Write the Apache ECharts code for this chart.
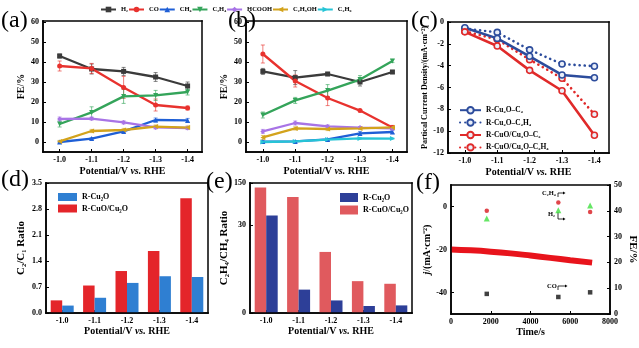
<!DOCTYPE html>
<html><head><meta charset="utf-8">
<script src="https://cdn.jsdelivr.net/npm/echarts@6/dist/echarts.min.js"></script>
<style>html,body{margin:0;padding:0;background:#fff}#c{width:639px;height:348px}</style>
</head><body><div id="c"></div>
<script>
const FONT = '"Liberation Serif","Times New Roman",serif';

// ---------- data ----------
const potentials = [-1.0, -1.1, -1.2, -1.3, -1.4];
const potLabels = ['-1.0', '-1.1', '-1.2', '-1.3', '-1.4'];
const productNames = ['H₂', 'CO', 'CH₄', 'C₂H₄', 'HCOOH', 'C₂H₅OH', 'C₂H₆'];
const feTicks = [0, 10, 20, 30, 40, 50, 60];

// (a) R-Cu2O FE
const aH2 = [43.0, 36.5, 35.3, 32.5, 28.0];
const aH2Err = [1.0, 2.5, 2.0, 2.2, 2.0];
const aCO = [38.0, 36.8, 27.3, 18.5, 17.0];
const aCOErr = [2.5, 2.5, 5.5, 3.0, 1.0];
const aCH4 = [0.0, 1.7, 5.3, 11.0, 10.8];
const aCH4Err = [0.5, 0.5, 0.5, 1.0, 1.0];
const aC2H4 = [9.0, 14.8, 22.8, 23.3, 25.0];
const aC2H4Err = [1.5, 2.8, 3.5, 2.5, 1.5];
const aHCOOH = [11.5, 11.7, 9.8, 7.3, 7.0];
const aHCOOHErr = [1.0, 0.8, 0.8, 0.8, 0.8];
const aC2H5OH = [0.3, 5.5, 6.0, 7.7, 7.2];
const aC2H5OHErr = [0.5, 0.8, 0.8, 0.8, 0.8];

// (b) R-CuO/Cu2O FE
const bH2 = [35.3, 32.2, 34.0, 30.0, 35.0];
const bH2Err = [1.5, 3.5, 0.8, 2.0, 0.8];
const bCO = [44.0, 30.5, 22.0, 15.7, 7.3];
const bCOErr = [4.5, 3.0, 3.8, 0.5, 1.0];
const bCH4 = [0.2, 0.3, 1.3, 4.3, 5.0];
const bCH4Err = [0.4, 0.4, 0.4, 1.0, 0.8];
const bC2H4 = [13.5, 20.8, 25.7, 31.2, 40.5];
const bC2H4Err = [1.5, 1.5, 3.0, 2.0, 0.8];
const bHCOOH = [5.3, 9.5, 7.8, 7.2, 6.8];
const bHCOOHErr = [1.0, 1.0, 0.8, 0.5, 0.8];
const bC2H5OH = [2.3, 6.8, 6.5, 6.8, 7.3];
const bC2H5OHErr = [1.0, 0.8, 0.8, 0.5, 0.8];
const bC2H6 = [0.0, 0.3, 1.2, 1.8, 1.7];
const bC2H6Err = [0.3, 0.3, 0.3, 0.3, 0.3];

// (c) partial current density
const cNames = ['R-Cu₂O–C₂', 'R-Cu₂O–C₂H₄', 'R-CuO/Cu₂O–C₂', 'R-CuO/Cu₂O–C₂H₄'];
const cCu2OC2 = [-0.52, -1.5, -3.14, -4.85, -5.1];
const cCu2OC2H4 = [-0.6, -0.95, -2.55, -3.85, -4.05];
const cCuOC2 = [-0.9, -2.2, -4.43, -6.3, -10.37];
const cCuOC2H4 = [-0.85, -1.6, -3.45, -5.15, -8.45];
const cTicks = [-12, -10, -8, -6, -4, -2, 0];

// (d) C2/C1 ratio
const dCu2O = [0.20, 0.41, 0.81, 0.99, 0.97];
const dCuO = [0.34, 0.74, 1.13, 1.67, 3.09];

// (e) C2H4/CH4 ratio (broken axis 0-30 / 30-150)
const eCu2O = [58, 8.0, 4.3, 2.4, 2.6];
const eCuO = [137, 110, 20.9, 10.9, 10.0];
const eTickValues = [0, 30, 150];

// (f) stability
const fTime = [0, 1000, 2000, 3000, 4000, 5000, 6000, 7100];
const fCurrent = [-20.0, -20.4, -21.0, -21.8, -22.8, -23.9, -25.0, -26.1];
const fFeTime = [1800, 5400, 7000];
const fFeC2H4 = [40.0, 43.2, 39.5];
const fFeH2 = [37.0, 40.2, 42.1];
const fFeCO = [7.8, 6.6, 8.4];

// ---------- styles ----------
const prodColors = ['#3b3b3b', '#e8322e', '#1f5fd6', '#34a45a', '#a874e6', '#d3a31c', '#26c4d6'];
const prodSymbols = ['rect', 'circle', 'triangle', 'triangle', 'diamond', 'triangle', 'triangle'];
const prodRot = [0, 0, 0, 180, 0, 90, -90];

const eBreak = 30, eK = 0.1207;
function eMap(v) { return v <= eBreak ? v : eBreak + (v - eBreak) * eK; }
function eUnmap(v) { return v <= eBreak + 1e-6 ? v : eBreak + (v - eBreak) / eK; }

function mkAxis(o) {
  const base = {
    axisLine: { show: true, onZero: false, lineStyle: { color: '#000', width: 1.5 } },
    axisTick: { show: true, inside: true, length: 3, lineStyle: { color: '#000', width: 1 } },
    axisLabel: { color: '#000', fontSize: 8, fontWeight: 'bold', fontFamily: FONT, margin: 4 },
    splitLine: { show: false },
    nameTextStyle: { color: '#000', fontSize: 10, fontWeight: 'bold', fontFamily: FONT }
  };
  const r = Object.assign({}, base, o);
  ['axisLine', 'axisTick', 'axisLabel', 'nameTextStyle'].forEach(k => {
    if (o[k]) r[k] = Object.assign({}, base[k], o[k]);
  });
  return r;
}
const potName = '{n|Potential/V }{i|vs.}{n| RHE}';
const potRich = {
  n: { fontSize: 10, fontWeight: 'bold', fontFamily: FONT, color: '#000' },
  i: { fontSize: 10, fontWeight: 'bold', fontStyle: 'italic', fontFamily: FONT, color: '#000' }
};
function potAxisValue(gi) {
  return mkAxis({
    type: 'value', gridIndex: gi, min: -1.445, max: -0.948, inverse: true,
    axisLabel: { customValues: potentials, formatter: v => v.toFixed(1) },
    axisTick: { customValues: potentials },
    name: potName, nameLocation: 'middle', nameGap: 14,
    nameTextStyle: { rich: potRich }
  });
}
function potAxisCat(gi) {
  return mkAxis({
    type: 'category', gridIndex: gi, data: potLabels,
    axisTick: { alignWithLabel: true },
    name: potName, nameLocation: 'middle', nameGap: 13,
    nameTextStyle: { rich: potRich }
  });
}

const grids = [
  { left: 43, top: 21, width: 159, height: 131 },
  { left: 246, top: 21, width: 161, height: 131 },
  { left: 448, top: 22, width: 161, height: 131 },
  { left: 46, top: 183, width: 162, height: 130 },
  { left: 250, top: 183, width: 162, height: 130 },
  { left: 451, top: 185, width: 159, height: 129 }
];

const xAxes = [
  potAxisValue(0), potAxisValue(1), potAxisValue(2),
  potAxisCat(3), potAxisCat(4),
  mkAxis({ type: 'value', gridIndex: 5, min: 0, max: 8000, interval: 2000,
    axisLabel: { formatter: v => String(v) },
    name: 'Time/s', nameLocation: 'middle', nameGap: 13 })
];
const yAxes = [
  mkAxis({ type: 'value', gridIndex: 0, min: -5, max: 60.5,
    axisLabel: { customValues: feTicks }, axisTick: { customValues: feTicks },
    name: 'FE/%', nameLocation: 'middle', nameGap: 17 }),
  mkAxis({ type: 'value', gridIndex: 1, min: -5, max: 60.5,
    axisLabel: { customValues: feTicks }, axisTick: { customValues: feTicks },
    name: 'FE/%', nameLocation: 'middle', nameGap: 17 }),
  mkAxis({ type: 'value', gridIndex: 2, min: -12, max: 0,
    axisLabel: { customValues: cTicks }, axisTick: { customValues: cTicks },
    name: 'Partical Current Density/(mA·cm⁻²)', nameLocation: 'middle', nameGap: 19,
    nameTextStyle: { fontSize: 8 } }),
  mkAxis({ type: 'value', gridIndex: 3, min: 0, max: 3.5, interval: 0.7,
    axisLabel: { formatter: v => v.toFixed(1) },
    name: 'C₂/C₁ Ratio', nameLocation: 'middle', nameGap: 19, nameTextStyle: { fontSize: 11 } }),
  mkAxis({ type: 'value', gridIndex: 4, min: 0, max: eMap(150),
    axisLabel: { customValues: eTickValues.map(eMap), formatter: v => String(Math.round(eUnmap(v))) },
    axisTick: { customValues: eTickValues.map(eMap) },
    name: 'C₂H₄/CH₄ Ratio', nameLocation: 'middle', nameGap: 14, nameTextStyle: { fontSize: 11 } }),
  mkAxis({ type: 'value', gridIndex: 5, min: -50, max: 10,
    axisLabel: { customValues: [-40, -20, 0] }, axisTick: { customValues: [-40, -20, 0] },
    name: '{i|j}{n|/(mA·cm⁻²)}', nameLocation: 'middle', nameGap: 17,
    nameTextStyle: { rich: {
      i: { fontSize: 10, fontWeight: 'bold', fontStyle: 'italic', fontFamily: FONT, color: '#000' },
      n: { fontSize: 10, fontWeight: 'bold', fontFamily: FONT, color: '#000' } } } }),
  mkAxis({ type: 'value', gridIndex: 5, position: 'right', min: 0, max: 50, interval: 10,
    name: 'FE/%', nameLocation: 'middle', nameGap: 17, nameRotate: -90, nameTextStyle: { fontSize: 11 } })
];

const series = [];
function errSeries(axisIdx, vals, errs, color) {
  return {
    type: 'custom', xAxisIndex: axisIdx, yAxisIndex: axisIdx, silent: true, z: 2,
    encode: { x: 0, y: 1 },
    data: potentials.map((p, i) => [p, vals[i], errs[i]]),
    renderItem: (params, api) => {
      const x = api.value(0), y = api.value(1), e = api.value(2);
      const hi = api.coord([x, y + e]), lo = api.coord([x, y - e]);
      const w = 2, st = { stroke: color, lineWidth: 0.8, opacity: 0.8 };
      return { type: 'group', children: [
        { type: 'line', shape: { x1: hi[0], y1: hi[1], x2: lo[0], y2: lo[1] }, style: st },
        { type: 'line', shape: { x1: hi[0] - w, y1: hi[1], x2: hi[0] + w, y2: hi[1] }, style: st },
        { type: 'line', shape: { x1: lo[0] - w, y1: lo[1], x2: lo[0] + w, y2: lo[1] }, style: st }
      ] };
    }
  };
}
function prodSeries(axisIdx, k, vals, errs) {
  series.push(errSeries(axisIdx, vals, errs, prodColors[k]));
  series.push({
    type: 'line', name: productNames[k], xAxisIndex: axisIdx, yAxisIndex: axisIdx, z: 3,
    data: potentials.map((p, i) => [p, vals[i]]),
    symbol: prodSymbols[k], symbolSize: 5, symbolRotate: prodRot[k],
    lineStyle: { width: 2.3, color: prodColors[k] }, itemStyle: { color: prodColors[k] }
  });
}
const aVals = [aH2, aCO, aCH4, aC2H4, aHCOOH, aC2H5OH];
const aErrs = [aH2Err, aCOErr, aCH4Err, aC2H4Err, aHCOOHErr, aC2H5OHErr];
aVals.forEach((v, k) => prodSeries(0, k, v, aErrs[k]));
const bVals = [bH2, bCO, bCH4, bC2H4, bHCOOH, bC2H5OH, bC2H6];
const bErrs = [bH2Err, bCOErr, bCH4Err, bC2H4Err, bHCOOHErr, bC2H5OHErr, bC2H6Err];
bVals.forEach((v, k) => prodSeries(1, k, v, bErrs[k]));

// (c)
const cVals = [cCu2OC2, cCu2OC2H4, cCuOC2, cCuOC2H4];
const cColors = ['#2c4c9c', '#2c4c9c', '#e02a2a', '#e02a2a'];
const cDotted = [false, true, false, true];
cVals.forEach((v, k) => {
  series.push({
    type: 'line', name: cNames[k], xAxisIndex: 2, yAxisIndex: 2, z: cDotted[k] ? 3 : 4,
    data: potentials.map((p, i) => [p, v[i]]),
    symbol: 'circle', symbolSize: 6,
    itemStyle: { color: '#e9eef8', borderColor: cColors[k], borderWidth: 1.6 },
    lineStyle: cDotted[k]
      ? { width: 2.6, color: cColors[k], type: [0.1, 5], cap: 'round' }
      : { width: 2.6, color: cColors[k] }
  });
});

// (d)
series.push({ type: 'bar', name: 'R-CuO/Cu₂O', xAxisIndex: 3, yAxisIndex: 3, data: dCuO,
  barWidth: 11.5, barGap: '0%', itemStyle: { color: '#e4252a' } });
series.push({ type: 'bar', name: 'R-Cu₂O', xAxisIndex: 3, yAxisIndex: 3, data: dCu2O,
  barWidth: 11.5, barGap: '0%', itemStyle: { color: '#2f7fd2' } });
// (e)
series.push({ type: 'bar', name: 'R-CuO/Cu₂O ', xAxisIndex: 4, yAxisIndex: 4, data: eCuO.map(eMap),
  barWidth: 11.5, barGap: '0%', itemStyle: { color: '#e05a5e' } });
series.push({ type: 'bar', name: 'R-Cu₂O ', xAxisIndex: 4, yAxisIndex: 4, data: eCu2O.map(eMap),
  barWidth: 11.5, barGap: '0%', itemStyle: { color: '#2d3f98' } });

// (f)
series.push({ type: 'line', name: 'j', xAxisIndex: 5, yAxisIndex: 5, showSymbol: false, smooth: true,
  data: fTime.map((t, i) => [t, fCurrent[i]]), lineStyle: { width: 6, color: '#e8141c' } });
series.push({ type: 'scatter', name: 'fC2H4', xAxisIndex: 5, yAxisIndex: 6, symbol: 'circle', symbolSize: 4.5,
  data: fFeTime.map((t, i) => [t, fFeC2H4[i]]), itemStyle: { color: '#d8181e' } });
series.push({ type: 'scatter', name: 'fH2', xAxisIndex: 5, yAxisIndex: 6, symbol: 'triangle', symbolSize: 6,
  data: fFeTime.map((t, i) => [t, fFeH2[i]]), itemStyle: { color: '#3ee03e' } });
series.push({ type: 'scatter', name: 'fCO', xAxisIndex: 5, yAxisIndex: 6, symbol: 'rect', symbolSize: 4.5,
  data: fFeTime.map((t, i) => [t, fFeCO[i]]), itemStyle: { color: '#111' } });

const legTxt = (fs) => ({ color: '#000', fontSize: fs, fontWeight: 'bold', fontFamily: FONT });
const legends = [
  { data: productNames, left: 95, top: 1, itemWidth: 15, itemHeight: 7, itemGap: 0, textStyle: legTxt(6.5), selectedMode: false },
  { data: cNames, orient: 'vertical', left: 454, top: 101, itemWidth: 21, itemHeight: 8, itemGap: 4, textStyle: legTxt(7.5), selectedMode: false },
  { data: ['R-Cu₂O', 'R-CuO/Cu₂O'], orient: 'vertical', left: 53, top: 188, itemWidth: 19, itemHeight: 8, itemGap: 3.5,
    icon: 'rect', textStyle: legTxt(8), selectedMode: false },
  { data: ['R-Cu₂O ', 'R-CuO/Cu₂O '], orient: 'vertical', left: 335, top: 188, itemWidth: 18, itemHeight: 9, itemGap: 3.5,
    icon: 'rect', textStyle: legTxt(8), selectedMode: false }
];

function panelLabel(t, x, y) {
  return { type: 'text', left: x, top: y, style: { text: t, fontSize: 24, fontFamily: FONT, fill: '#000' } };
}
function annot(t, x, y) {
  return { type: 'text', left: x, top: y, style: { text: t, fontSize: 6.5, fontWeight: 'bold', fontFamily: FONT, fill: '#000' } };
}
function bracket(pts) {
  return { type: 'polyline', shape: { points: pts }, style: { stroke: '#000', lineWidth: 0.8, fill: null } };
}
function arrowHead(x, y) {
  return { type: 'polygon', shape: { points: [[x, y - 1.5], [x + 2.5, y], [x, y + 1.5]] }, style: { fill: '#000' } };
}
// plot frames: each edge as a thin filled polygon
function edge(x1, y1, x2, y2) {
  return { type: 'polygon', silent: true, z: 100,
    shape: { points: [[x1, y1], [x2, y1], [x2, y2], [x1, y2]] }, style: { fill: '#000' } };
}
const frames = [];
grids.forEach(g => {
  const l = g.left, t = g.top, r = g.left + g.width, b = g.top + g.height, h = 0.75;
  frames.push(edge(l - h, t - h, r + h, t + h));
  frames.push(edge(l - h, b - h, r + h, b + h));
  frames.push(edge(l - h, t - h, l + h, b + h));
  frames.push(edge(r - h, t - h, r + h, b + h));
});
const graphics = [
  panelLabel('(a)', 1, 9), panelLabel('(b)', 228, 9), panelLabel('(c)', 411, 9),
  panelLabel('(d)', 1, 168), panelLabel('(e)', 206, 170), panelLabel('(f)', 416, 171),
  annot('C₂H₄', 542, 190), bracket([[558, 197], [558, 193], [563, 193]]), arrowHead(563, 193),
  annot('H₂', 548, 211), bracket([[558, 212], [558, 219], [563, 219]]), arrowHead(563, 219),
  annot('CO', 547, 283), bracket([[558, 290], [558, 286], [565, 286]]), arrowHead(565, 286)
].concat(frames);

const chart = echarts.init(document.getElementById('c'));
chart.setOption({
  animation: false,
  grid: grids, xAxis: xAxes, yAxis: yAxes, legend: legends, series: series, graphic: graphics
});
</script></body></html>
